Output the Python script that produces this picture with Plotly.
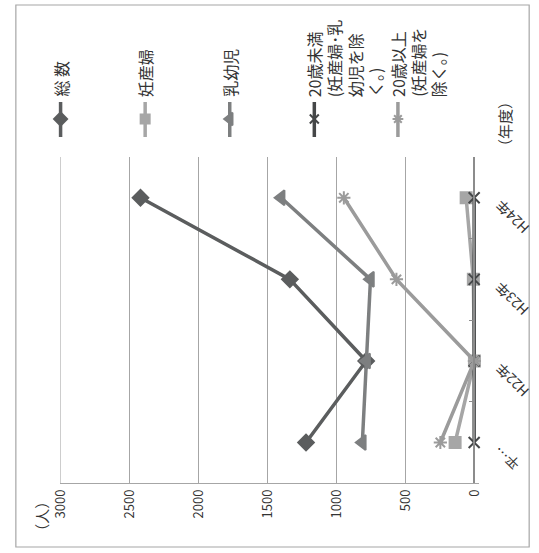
import plotly.graph_objects as go

W, H = 539, 553

categories = ["平…", "H22年", "H23年", "H24年"]
series_names = ["総 数", "妊産婦", "乳幼児",
                "20歳未満(妊産婦･乳幼児を除く。)", "20歳以上(妊産婦を除く。)"]
total = [1220, 784, 1337, 2419]
pregnant = [140, 0, 8, 60]
infants = [812, 781, 753, 1400]
under20 = [2, 2, 2, 2]
over20 = [247, 0, 565, 946]
values = [total, pregnant, infants, under20, over20]

legend_lines = [["総 数"], ["妊産婦"], ["乳幼児"],
                ["20歳未満", "(妊産婦･乳", "幼児を除", "く。)"],
                ["20歳以上", "(妊産婦を", "除く。)"]]
value_ticks = [0, 500, 1000, 1500, 2000, 2500, 3000]

colors = ["#5b5d5e", "#a6a6a6", "#7d7f80", "#454748", "#9b9b9b"]
symbols = ["diamond", "square", "triangle-left", "x-thin-open", "asterisk-open"]
msizes = [12, 11, 13, 11, 11]

FONT = "Noto Sans CJK JP"

def px(x):
    return x / W

def py(y):
    return 1 - y / H

fig = go.Figure()
for name, vals, c, s, ms in zip(series_names, values, colors, symbols, msizes):
    fig.add_trace(go.Scatter(
        x=vals, y=categories, name=name, mode="lines+markers",
        line=dict(color=c, width=3.5),
        marker=dict(symbol=s, size=ms, color=c, line=dict(color=c, width=2)),
        cliponaxis=False, showlegend=False, xaxis="x", yaxis="y"))

# rotated legend symbols drawn on a pixel-space overlay axis
leg_x = [51, 138, 225, 312, 398]
for lx, c, s, ms in zip(leg_x, colors, symbols, msizes):
    fig.add_trace(go.Scatter(x=[lx, lx], y=[102, 137], mode="lines",
                             line=dict(color=c, width=3.5), showlegend=False,
                             xaxis="x2", yaxis="y2", hoverinfo="skip"))
    fig.add_trace(go.Scatter(x=[lx], y=[119], mode="markers",
                             marker=dict(symbol=s, size=ms - 2, color=c, line=dict(color=c, width=2)),
                             showlegend=False, xaxis="x2", yaxis="y2", hoverinfo="skip",
                             cliponaxis=False))

annotations = []
for lx, lines in zip(leg_x, legend_lines):
    for i, t in enumerate(lines):
        annotations.append(dict(
            text=t, x=px(lx + 21 * i), y=py(99), xref="paper", yref="paper",
            xanchor="center", yanchor="bottom", textangle=-90, showarrow=False,
            font=dict(family=FONT, size=16, color="#333333")))
annotations.append(dict(text="（年度）", x=px(507), y=py(124), xref="paper", yref="paper",
                        xanchor="center", yanchor="middle", textangle=-90, showarrow=False,
                        font=dict(family=FONT, size=15, color="#333333")))
annotations.append(dict(text="（人）", x=px(31), y=py(492), xref="paper", yref="paper",
                        xanchor="center", yanchor="top", textangle=-90, showarrow=False,
                        font=dict(family=FONT, size=15, color="#333333")))
# rotated category labels
for cat in categories:
    annotations.append(dict(text=cat, x=px(490), y=cat, xref="paper", yref="y",
                            xanchor="left", yanchor="top", yshift=5, textangle=-135,
                            showarrow=False, font=dict(family=FONT, size=14, color="#333333")))

x0_px, x3000_px = 476.7, 50.7
ppu = (x0_px - x3000_px) / 3000
ext = 30
x_right_px = x0_px + ext * ppu

fig.update_layout(
    width=W, height=H, margin=dict(l=0, r=0, t=0, b=0),
    paper_bgcolor="white", plot_bgcolor="rgba(0,0,0,0)",
    font=dict(family=FONT, size=13, color="#333333"),
    xaxis=dict(domain=[px(x3000_px), px(x_right_px)], range=[3000, -ext],
               tickvals=value_ticks, ticktext=[str(v) for v in value_ticks],
               tickangle=-90, showgrid=True, gridcolor="#a6a6a6", gridwidth=1,
               zeroline=False, showline=True, linecolor="#a6a6a6", linewidth=1.2,
               ticks="", anchor="y", tickfont=dict(size=13, color="#333333")),
    yaxis=dict(domain=[py(483.3), py(157)], range=[-0.5, 3.5],
               type="category", categoryorder="array", categoryarray=categories,
               side="right", anchor="free", position=px(x0_px),
               showline=True, linecolor="#8c8c8c", linewidth=1.5,
               ticks="inside", tickson="boundaries", ticklen=5, tickcolor="#8c8c8c",
               showgrid=False, zeroline=False, showticklabels=False),
    xaxis2=dict(domain=[0, 1], range=[0, W], visible=False, anchor="y2", fixedrange=True),
    yaxis2=dict(domain=[0, 1], range=[H, 0], visible=False, anchor="x2", fixedrange=True),
    annotations=annotations,
    shapes=[dict(type="rect", xref="paper", yref="paper", x0=px(5), x1=px(533),
                 y0=py(547), y1=py(5), line=dict(color="#a6a6a6", width=1.2),
                 fillcolor="rgba(0,0,0,0)"),
            dict(type="line", xref="x", yref="paper", x0=3000, x1=3000,
                 y0=py(483.3), y1=py(157), line=dict(color="#a6a6a6", width=1),
                 layer="below")],
)

fig.write_html("out.html")
